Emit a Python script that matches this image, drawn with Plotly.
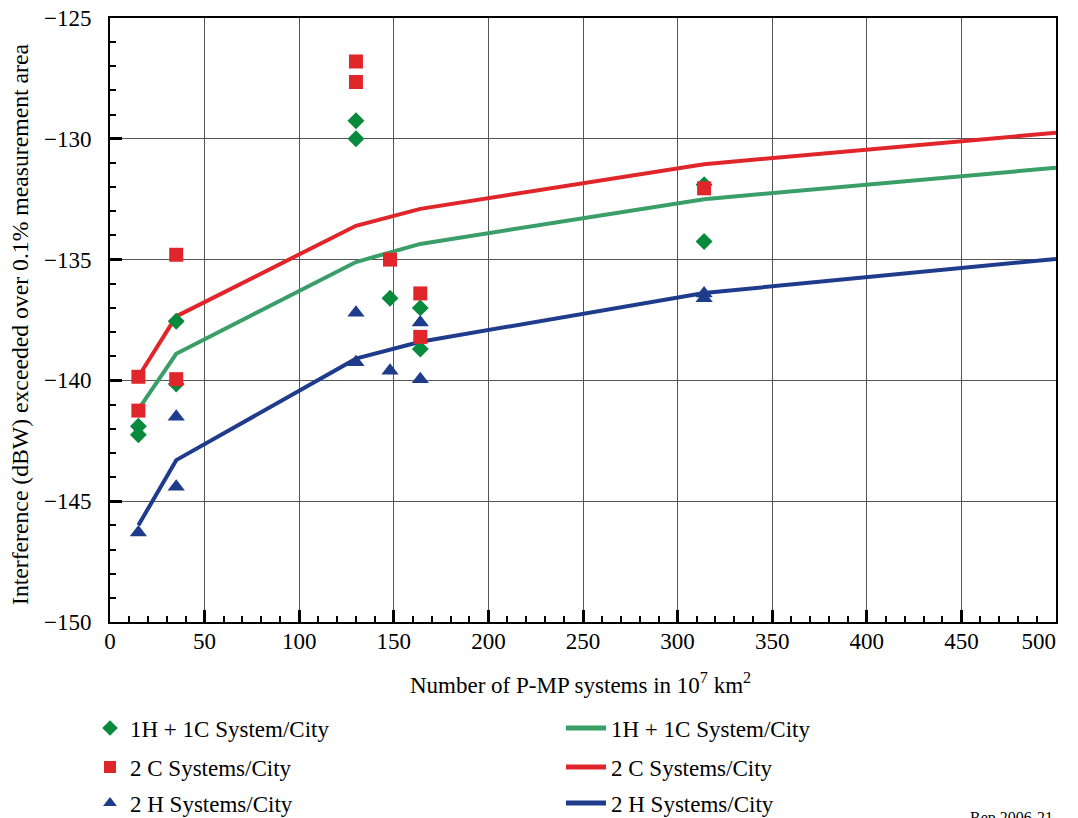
import plotly.graph_objects as go

# ---- data ----
hc_x = [15, 15, 35, 35, 130, 130, 148, 164, 164, 314, 314]
hc_y = [-141.9, -142.25, -137.55, -140.15, -129.25, -130.0, -136.6, -137.0, -138.7, -131.9, -134.25]

cc_x = [15, 15, 35, 35, 130, 130, 148, 164, 164, 314]
cc_y = [-139.85, -141.25, -134.8, -139.95, -126.8, -127.65, -135.0, -136.4, -138.2, -132.05]

hh_x = [15, 35, 35, 130, 130, 148, 164, 164, 314, 314]
hh_y = [-146.3, -141.5, -144.4, -137.2, -139.25, -139.6, -137.6, -139.95, -136.4, -136.6]

line_x = [15, 35, 130, 164, 314, 500]
hc_line = [-141.2, -138.9, -135.1, -134.35, -132.5, -131.2]
cc_line = [-139.85, -137.35, -133.6, -132.9, -131.05, -129.75]
hh_line = [-146.0, -143.3, -139.1, -138.4, -136.38, -134.97]

x_tickvals = [0, 50, 100, 150, 200, 250, 300, 350, 400, 450, 500]
x_ticktext = ["0", "50", "100", "150", "200", "250", "300", "350", "400", "450",
              "500" + "\u00a0" * 6]

labels = ["1H + 1C System/City", "2 C Systems/City", "2 H Systems/City"]
x_title = "Number of P-MP systems in 10<sup>7</sup> km<sup>2</sup>"
y_title = "Interference (dBW) exceeded over 0.1% measurement area"

GREEN_M = "#078a3b"
GREEN_L = "#3a9e69"
RED = "#e0262a"
BLUE = "#1f3c8c"
FONT = "Liberation Serif, Times New Roman, serif"
FS = 23

# page body has an 8px margin: figure is drawn 8px right/down
OFF = 8
W, H = 1078 - OFF, 818 - OFF
PL, PR, PT, PB = 110, 1056, 18, 622   # plot area in screen pixels
PW, PH = PR - PL, PB - PT

def px_x(sx):
    return (sx - PL) / PW

def px_y(sy):
    return (PB - sy) / PH

fig = go.Figure()

series = [
    (hc_x, hc_y, "diamond", GREEN_M, 13, hc_line, GREEN_L),
    (cc_x, cc_y, "square", RED, 14, cc_line, RED),
    (hh_x, hh_y, "triangle-up", BLUE, 15, hh_line, BLUE),
]
row_px = [729, 768, 804]

# lines first, markers on top
for i, (sx, sy, sym, col, sz, ly, lcol) in enumerate(series):
    fig.add_trace(go.Scatter(x=line_x, y=ly, mode="lines", name=labels[i],
                             line=dict(color=lcol, width=4),
                             legend="legend%d" % (4 + i)))
for i, (sx, sy, sym, col, sz, ly, lcol) in enumerate(series):
    fig.add_trace(go.Scatter(x=sx, y=sy, mode="markers", name=labels[i],
                             marker=dict(symbol=sym, color=col, size=sz, line=dict(width=0)),
                             legend="legend" if i == 0 else "legend%d" % (1 + i)))

def leg(xpx, ypx, iw):
    return dict(orientation="v", xref="paper", yref="paper",
                x=px_x(xpx), y=px_y(ypx), xanchor="left", yanchor="middle",
                bgcolor="rgba(0,0,0,0)", borderwidth=0, itemsizing="constant",
                font=dict(family=FONT, size=FS, color="black"), itemwidth=iw)

legend_layout = {}
for i in range(3):
    key_m = "legend" if i == 0 else "legend%d" % (1 + i)
    legend_layout[key_m] = leg(90, row_px[i] - 1, 30)
    legend_layout["legend%d" % (4 + i)] = leg(561, row_px[i] - 1, 40)
fig.update_layout(**legend_layout)

fig.update_layout(
    width=W, height=H,
    margin=dict(l=PL - OFF, r=1078 - PR, t=PT - OFF, b=818 - PB, autoexpand=False),
    paper_bgcolor="white", plot_bgcolor="white",
    font=dict(family=FONT, size=FS, color="black"),
    showlegend=True,
)

fig.update_xaxes(
    range=[0, 500], tickmode="array", tickvals=x_tickvals, ticktext=x_ticktext,
    showgrid=True, gridcolor="#555555", gridwidth=1,
    showline=True, linecolor="black", linewidth=2, mirror=True,
    ticks="inside", ticklen=12, tickwidth=3, tickcolor="black",
    minor=dict(dtick=10, tick0=0, ticks="inside", ticklen=6, tickwidth=2, tickcolor="black", showgrid=False),
    zeroline=False, ticklabelstandoff=-3, ticklabeloverflow="allow",
    tickfont=dict(family=FONT, size=FS, color="black"),
)
fig.update_yaxes(
    range=[-150, -125], dtick=5, tick0=-150,
    showgrid=True, gridcolor="#555555", gridwidth=1,
    showline=True, linecolor="black", linewidth=2, mirror=True,
    ticks="inside", ticklen=12, tickwidth=3, tickcolor="black",
    minor=dict(dtick=1, ticks="inside", ticklen=6, tickwidth=2, tickcolor="black", showgrid=False),
    zeroline=False, ticklabelstandoff=12, ticklabeloverflow="allow",
    tickfont=dict(family=FONT, size=FS, color="black"),
)

fig.add_annotation(text=x_title, xref="paper", yref="paper",
                   x=px_x(580), y=px_y(683), xanchor="center", yanchor="middle",
                   showarrow=False, font=dict(family=FONT, size=FS, color="black"))
fig.add_annotation(text=y_title, xref="paper", yref="paper", textangle=-90,
                   x=px_x(20), y=px_y(325), xanchor="center", yanchor="middle",
                   showarrow=False, font=dict(family=FONT, size=23.7, color="black"))
fig.add_annotation(text="Rep 2006-21", xref="paper", yref="paper",
                   x=px_x(968), y=px_y(807), xanchor="left", yanchor="top",
                   showarrow=False, font=dict(family=FONT, size=16, color="black"))

fig.write_html("out.html")
